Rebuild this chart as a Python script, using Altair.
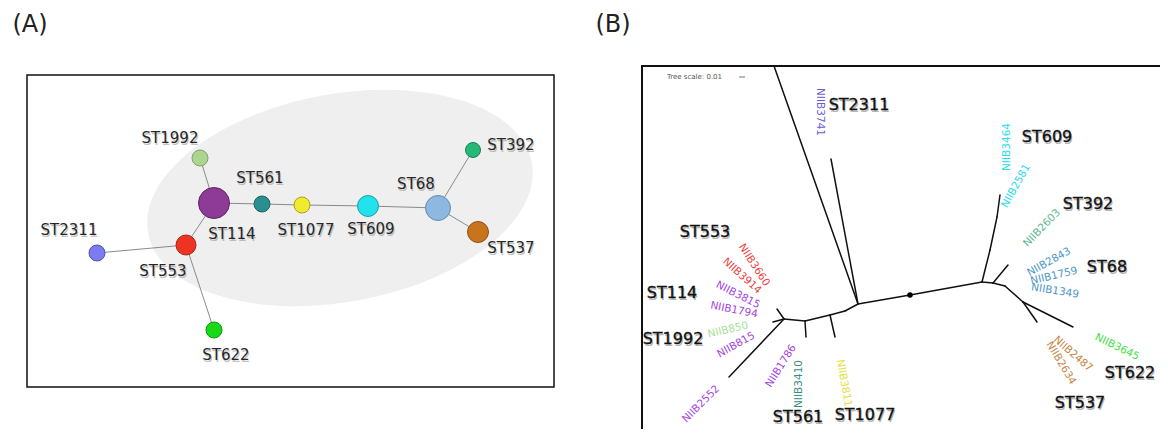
import altair as alt
import pandas as pd

# ---------------- Panel A : minimum spanning tree of sequence types ----------------
A_NODES = ["ST1992", "ST114", "ST561", "ST1077", "ST609", "ST68", "ST392", "ST537", "ST553", "ST2311", "ST622"]
A_X = [200, 214, 262, 302, 368, 438, 473, 478, 186, 97, 214]
A_Y = [158, 203, 204, 205, 206, 208, 150, 232, 245, 253, 330]
A_DIAM = [16, 31, 16, 16, 21, 25, 15, 21, 20, 16, 16]
A_FILL = ["#acd68e", "#8e3b98", "#2b8f8f", "#f0ea30", "#22e2ee", "#8db8e2",
          "#26b877", "#c8741e", "#ee3322", "#7a7cf0", "#18d818"]
A_EDGE = ["#7fa070", "#5e2566", "#1d6262", "#a8a420", "#18a0a8", "#6688aa",
          "#1a8050", "#8a5014", "#a82418", "#5052b0", "#10960f"]
A_LABEL_X = [170, 232, 260, 306, 371, 416, 511, 511, 163, 69, 226]
A_LABEL_Y = [138, 234, 178, 230, 229, 184, 145, 248, 271, 230, 355]
A_LINKS = [("ST1992", "ST114"), ("ST114", "ST561"), ("ST561", "ST1077"), ("ST1077", "ST609"),
           ("ST609", "ST68"), ("ST68", "ST392"), ("ST68", "ST537"), ("ST114", "ST553"),
           ("ST553", "ST2311"), ("ST553", "ST622")]
A_FRAME = [27, 554, 75, 387]          # x, x2, y, y2
A_HULL = [340, 198, 195, 104, 10.4]    # cx, cy, semi-major, semi-minor, tilt (deg, ccw)

# ---------------- Panel B : unrooted phylogenetic tree ----------------
T_NODE = ["out", "n1", "t2311", "b1", "b2", "b3", "bb", "root", "r1", "r2", "r3", "r4",
          "p1", "p2", "t609", "t68", "t537", "t622", "t2552", "t553", "t1992", "t561", "t1077"]
T_X = [774, 858, 831, 784, 805, 830, 845, 910, 982, 993, 1005, 1023,
       990, 997, 1000, 1008, 1037, 1073, 729, 777, 773, 806, 835]
T_Y = [66, 304, 159, 319, 321, 315, 311, 295, 282, 283, 286, 302,
       250, 217, 195, 265, 322, 327, 377, 309, 322, 337, 337]
T_LINKS = [("out", "n1"), ("t2311", "n1"), ("n1", "root"), ("root", "r1"), ("r1", "r2"),
           ("r2", "r3"), ("r3", "r4"), ("r4", "t537"), ("r4", "t622"), ("r2", "t68"),
           ("r1", "p1"), ("p1", "p2"), ("p2", "t609"), ("n1", "bb"), ("bb", "b3"),
           ("b3", "b2"), ("b2", "b1"), ("b1", "t2552"), ("b1", "t553"), ("b1", "t1992"),
           ("b2", "t561"), ("b3", "t1077")]

ISOLATES = ["NIIB3741", "NIIB3660", "NIIB3914", "NIIB3815", "NIIB1794", "NIIB850", "NIIB815",
            "NIIB2552", "NIIB1786", "NIIB3410", "NIIB3811", "NIIB3464", "NIIB2581", "NIIB2603",
            "NIIB2843", "NIIB1759", "NIIB1349", "NIIB3645", "NIIB2487", "NIIB2634"]
ISO_ST = ["ST2311", "ST553", "ST553", "ST114", "ST114", "ST1992", "ST114", "ST114", "ST114",
          "ST561", "ST1077", "ST609", "ST609", "ST392", "ST68", "ST68", "ST68", "ST622",
          "ST537", "ST537"]
ISO_X = [820, 754, 742, 738, 734, 728, 736, 701, 781, 799, 844, 1007, 1016, 1042,
         1049, 1054, 1055, 1117, 1073, 1061]
ISO_Y = [112, 265, 276, 295, 310, 330, 345, 404, 366, 384, 383, 147, 186, 228,
         262, 276, 291, 347, 354, 363]
ISO_ANGLE = [90, 57, 42, 27, 11, 347, 331, 315, 302, 270, 80, 270, 299, 314,
             331, 347, 9, 26, 41, 59]
B_ST = ["ST2311", "ST553", "ST114", "ST1992", "ST561", "ST1077", "ST609", "ST392", "ST68", "ST622", "ST537"]
B_COLOR = ["#6a5cd8", "#ee4040", "#a444e0", "#a8e09a", "#3a9080", "#e6e040",
           "#28dbe8", "#5ab88e", "#4c98c8", "#44e044", "#c8823e"]
B_LABEL_X = [859, 705, 672, 673, 798, 865, 1047, 1088, 1107, 1130, 1080]
B_LABEL_Y = [105, 232, 293, 339, 417, 415, 137, 204, 267, 373, 403]
B_FRAME = [642, 1200, 66, 470]
PANELS = ["(A)", "(B)"]
PANEL_X = [30, 613]
PANEL_Y = [25, 25]

FONT = "DejaVu Sans"
XS = alt.Scale(domain=[8, 1160], nice=False, zero=False)
YS = alt.Scale(domain=[8, 429], nice=False, zero=False, reverse=True)


def X(f="x"):
    return alt.X(f"{f}:Q", scale=XS, axis=None)


def Y(f="y"):
    return alt.Y(f"{f}:Q", scale=YS, axis=None)


# data frames
nodes = pd.DataFrame({"st": A_NODES, "x": A_X, "y": A_Y, "d": A_DIAM,
                      "lx": A_LABEL_X, "ly": A_LABEL_Y})
nodes["size"] = nodes["d"] ** 2
pos = nodes.set_index("st")
links = pd.DataFrame([{"x": pos.loc[a, "x"], "y": pos.loc[a, "y"],
                       "x2": pos.loc[b, "x"], "y2": pos.loc[b, "y"]} for a, b in A_LINKS])

tpos = pd.DataFrame({"n": T_NODE, "x": T_X, "y": T_Y}).set_index("n")
tlinks = pd.DataFrame([{"x": tpos.loc[a, "x"], "y": tpos.loc[a, "y"],
                        "x2": tpos.loc[b, "x"], "y2": tpos.loc[b, "y"]} for a, b in T_LINKS])
root = tpos.loc[["root"]].reset_index()

iso = pd.DataFrame({"label": ISOLATES, "st": ISO_ST, "x": ISO_X, "y": ISO_Y, "angle": ISO_ANGLE})
blab = pd.DataFrame({"st": B_ST, "x": B_LABEL_X, "y": B_LABEL_Y})

frames = pd.DataFrame({"x": [A_FRAME[0]], "x2": [A_FRAME[1]], "y": [A_FRAME[2]], "y2": [A_FRAME[3]]})
frameB = pd.DataFrame({"x": [B_FRAME[0]], "x2": [B_FRAME[1]], "y": [B_FRAME[2]], "y2": [B_FRAME[3]]})
hull = pd.DataFrame({"x": [A_HULL[0]], "y": [A_HULL[1]], "size": [(2 * A_HULL[2]) ** 2],
                     "angle": [360 - A_HULL[4]]})
r = A_HULL[3] / A_HULL[2]
k = 0.5523
ELLIPSE = (f"M -1 0 C -1 {-r*k:.4f} {-k} {-r:.4f} 0 {-r:.4f} "
           f"C {k} {-r:.4f} 1 {-r*k:.4f} 1 0 "
           f"C 1 {r*k:.4f} {k} {r:.4f} 0 {r:.4f} "
           f"C {-k} {r:.4f} -1 {r*k:.4f} -1 0 Z")
panels = pd.DataFrame({"t": PANELS, "x": PANEL_X, "y": PANEL_Y})
scale_txt = pd.DataFrame({"t": ["Tree scale: 0.01"], "x": [667], "y": [77]})
scale_bar = pd.DataFrame({"x": [739], "x2": [745], "y": [77], "y2": [77]})

strA = alt.Stroke("st:N", scale=alt.Scale(domain=A_NODES, range=A_EDGE), legend=None)
fillA = alt.Fill("st:N", scale=alt.Scale(domain=A_NODES, range=A_FILL), legend=None)
colB = alt.Color("st:N", scale=alt.Scale(domain=B_ST, range=B_COLOR), legend=None)

layers = []
# ellipse hull
layers.append(alt.Chart(hull).mark_point(shape=ELLIPSE, filled=True, fill="#efefef",
                                         opacity=1, strokeWidth=0).encode(
    x=X(), y=Y(), size=alt.Size("size:Q", scale=None), angle=alt.Angle("angle:Q", scale=None)))
# frames
layers.append(alt.Chart(frames).mark_rect(fill=None, stroke="#111", strokeWidth=1.5).encode(
    x=X(), x2="x2:Q", y=Y(), y2="y2:Q"))
layers.append(alt.Chart(frameB).mark_rect(fill=None, stroke="#111", strokeWidth=2).encode(
    x=X(), x2="x2:Q", y=Y(), y2="y2:Q"))
# panel A links and nodes
layers.append(alt.Chart(links).mark_rule(color="#8a8a8a", strokeWidth=1).encode(
    x=X(), x2="x2:Q", y=Y(), y2="y2:Q"))
layers.append(alt.Chart(nodes).mark_point(filled=True, shape="circle", opacity=1, strokeWidth=1).encode(
    x=X(), y=Y(), size=alt.Size("size:Q", scale=None), fill=fillA, stroke=strA))
# panel A labels with soft shadow
layers.append(alt.Chart(nodes).mark_text(font=FONT, fontSize=15, color="#8a8a8a", opacity=0.5,
                                         dx=1, dy=1.5, baseline="middle", align="center").encode(
    x=X("lx"), y=Y("ly"), text="st:N"))
layers.append(alt.Chart(nodes).mark_text(font=FONT, fontSize=15, color="#262626",
                                         baseline="middle", align="center").encode(
    x=X("lx"), y=Y("ly"), text="st:N"))
# panel B tree
layers.append(alt.Chart(tlinks).mark_rule(color="#111", strokeWidth=1.5, strokeCap="round").encode(
    x=X(), x2="x2:Q", y=Y(), y2="y2:Q"))
layers.append(alt.Chart(root).mark_point(filled=True, shape="circle", color="#000", size=30, opacity=1).encode(
    x=X(), y=Y()))
layers.append(alt.Chart(iso).mark_text(font=FONT, fontSize=10.5, baseline="middle", align="center").encode(
    x=X(), y=Y(), text="label:N", color=colB, angle=alt.Angle("angle:Q", scale=None)))
layers.append(alt.Chart(blab).mark_text(font=FONT, fontSize=16, color="#7a7a7a", opacity=0.55,
                                        dx=1, dy=1.5, baseline="middle", align="center").encode(
    x=X(), y=Y(), text="st:N"))
layers.append(alt.Chart(blab).mark_text(font=FONT, fontSize=16, color="#111111",
                                        stroke="#111111", strokeWidth=0.35,
                                        baseline="middle", align="center").encode(
    x=X(), y=Y(), text="st:N"))
layers.append(alt.Chart(scale_txt).mark_text(font=FONT, fontSize=7, color="#555",
                                             baseline="middle", align="left").encode(
    x=X(), y=Y(), text="t:N"))
layers.append(alt.Chart(scale_bar).mark_rule(color="#555", strokeWidth=0.8).encode(
    x=X(), x2="x2:Q", y=Y(), y2="y2:Q"))
# panel letters
layers.append(alt.Chart(panels).mark_text(font=FONT, fontSize=24, color="#222",
                                          baseline="middle", align="center").encode(
    x=X(), y=Y(), text="t:N"))

chart = alt.layer(*layers).properties(
    width=1152, height=421, padding=0,
    autosize=alt.AutoSizeParams(type="none"),
).configure_view(stroke=None)

chart.save("out.html", embed_options={"renderer": "svg", "actions": False})
